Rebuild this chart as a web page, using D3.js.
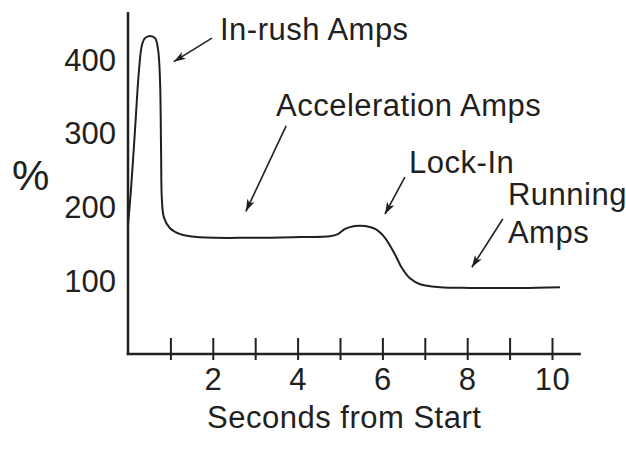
<!DOCTYPE html>
<html>
<head>
<meta charset="utf-8">
<script src="https://cdn.jsdelivr.net/npm/d3@7"></script>
<style>
  html, body { margin: 0; padding: 0; background: #fff; }
  svg { display: block; }
  text { font-family: "Liberation Sans", Arial, Helvetica, sans-serif; fill: #231f20; }
</style>
</head>
<body>
<svg id="chart" width="626" height="449"></svg>
<script>
// ---- data ----
const seconds = [0, 0.07, 0.165, 0.26, 0.33, 0.40, 0.52, 0.64, 0.71, 0.755, 0.78, 0.80, 0.85, 0.99, 1.23, 1.63, 2.88, 4.06, 4.76, 4.95, 5.12, 5.35, 5.59, 5.83, 6.06, 6.30, 6.46, 6.65, 6.89, 7.36, 8.07, 9.25, 10.19];
const percent = [176, 224, 305, 387, 421, 430, 433, 430, 414, 373, 278, 210, 186, 172, 164, 160, 159, 160, 161, 164, 171, 175, 175, 171, 159, 136, 118, 104, 96, 92, 91, 91, 92];
const xTicks = [1, 2, 3, 4, 5, 6, 7, 8, 9, 10];
const xTickLabels = ["", "2", "", "4", "", "6", "", "8", "", "10"];
const yTicks = [100, 200, 300, 400];
const yTickLabels = ["100", "200", "300", "400"];
const annotationLabels = [["In-rush Amps"], ["Acceleration Amps"], ["Lock-In"], ["Running", "Amps"]];
const labelAnchorS = [2.17, 3.49, 6.63, 8.96];
const labelAnchorV = [427, 324, 247, 203.5];
const arrowFromS = [1.98, 3.73, 6.53, 8.84];
const arrowFromV = [430, 311, 241.5, 184.5];
const arrowToS = [1.08, 2.78, 6.06, 8.11];
const arrowToV = [398, 195, 191, 119];
const yTitle = "%";
const xTitle = "Seconds from Start";

// ---- layout ----
const svg = d3.select("#chart");
const x = d3.scaleLinear().domain([0, 10]).range([128, 552]);
const y = d3.scaleLinear().domain([0, 400]).range([355, 60.2]);
const ink = "#231f20";
const fs = 31;
const ls = "0.5px";

// arrowhead marker
svg.append("defs").append("marker")
  .attr("id", "head").attr("viewBox", "0 0 12 8")
  .attr("refX", 12).attr("refY", 4)
  .attr("markerWidth", 12).attr("markerHeight", 8)
  .attr("markerUnits", "userSpaceOnUse")
  .attr("orient", "auto")
  .append("path").attr("d", "M0,0 L12,4 L0,8 L3,4 Z").attr("fill", ink);

// y axis line
svg.append("line")
  .attr("x1", x(0)).attr("x2", x(0))
  .attr("y1", y(0)).attr("y2", 12)
  .attr("stroke", ink).attr("stroke-width", 2.5);

// x axis
const xAxis = d3.axisBottom(x)
  .tickValues(xTicks)
  .tickFormat((d, i) => xTickLabels[i])
  .tickSize(6).tickSizeOuter(0);
const gx = svg.append("g").attr("transform", `translate(0,${y(0) - 1})`).call(xAxis);
gx.select(".domain").remove();
gx.selectAll(".tick line").attr("y1", -16).attr("y2", 6).attr("stroke", ink).attr("stroke-width", 2);
gx.selectAll(".tick text")
  .attr("y", 36).attr("dy", null)
  .style("font-size", fs + "px")
  .style("letter-spacing", ls)
  .style("font-family", '"Liberation Sans", Arial, sans-serif')
  .attr("fill", ink);
svg.append("line")
  .attr("x1", x(0) - 1.25).attr("x2", x(10.68))
  .attr("y1", y(0) - 1).attr("y2", y(0) - 1)
  .attr("stroke", ink).attr("stroke-width", 2.5);

// y tick labels (no tick marks)
const yAxis = d3.axisLeft(y).tickValues(yTicks)
  .tickFormat((d, i) => yTickLabels[i]).tickSize(0).tickPadding(12);
const gy = svg.append("g").attr("transform", `translate(${x(0)},0)`).call(yAxis);
gy.select(".domain").remove();
gy.selectAll(".tick text")
  .style("font-size", fs + "px")
  .style("font-family", '"Liberation Sans", Arial, sans-serif')
  .attr("fill", ink);

// curve
const pts = seconds.map((s, i) => [s, percent[i]]);
svg.append("path")
  .datum(pts)
  .attr("fill", "none").attr("stroke", ink).attr("stroke-width", 2)
  .attr("stroke-linejoin", "round")
  .attr("d", d3.line().x(d => x(d[0])).y(d => y(d[1])).curve(d3.curveCatmullRom.alpha(0.5)));

// annotations
annotationLabels.forEach((lines, i) => {
  const t = svg.append("text")
    .attr("x", x(labelAnchorS[i])).attr("y", y(labelAnchorV[i]))
    .style("font-size", fs + "px")
    .style("letter-spacing", ls);
  lines.forEach((ln, j) => {
    t.append("tspan").attr("x", x(labelAnchorS[i])).attr("dy", j === 0 ? 0 : 38).text(ln);
  });
  svg.append("line")
    .attr("x1", x(arrowFromS[i])).attr("y1", y(arrowFromV[i]))
    .attr("x2", x(arrowToS[i])).attr("y2", y(arrowToV[i]))
    .attr("stroke", ink).attr("stroke-width", 1.6)
    .attr("marker-end", "url(#head)");
});

// axis titles
svg.append("text").attr("x", 12).attr("y", 190)
  .style("font-size", "42px").text(yTitle);
svg.append("text").attr("x", x(5.1)).attr("y", 428)
  .attr("text-anchor", "middle")
  .style("font-size", fs + "px")
  .style("letter-spacing", ls).text(xTitle);
</script>
</body>
</html>
